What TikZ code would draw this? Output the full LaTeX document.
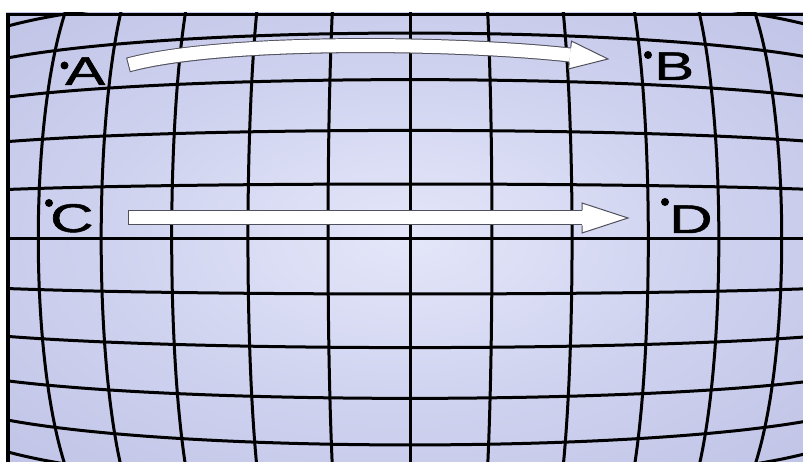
\documentclass[tikz,border=0pt]{standalone}
\usepackage{fontspec}
\usepackage{graphicx}
\usetikzlibrary{calc}
\newfontfamily\lblfont[FakeBold=1.2]{Liberation Sans}
\definecolor{bgin}{RGB}{228,231,249}
\definecolor{bgmid}{RGB}{206,209,238}
\definecolor{bgout}{RGB}{180,184,223}
\definecolor{bgcorner}{RGB}{166,170,214}
\definecolor{arrowedge}{RGB}{80,80,92}
\pgfdeclareradialshading{lens}{\pgfpoint{0bp}{0bp}}{color(0bp)=(bgin); color(20bp)=(bgmid); color(50bp)=(bgout); color(72bp)=(bgcorner)}
\newcommand{\wide}[1]{\scalebox{1.5}[1]{#1}}

\begin{document}
\begin{tikzpicture}[
    x=1pt, y=-1pt,
    gridline/.style={line width=3pt, black},
    letter/.style={font=\lblfont\fontsize{40}{48}\selectfont, inner sep=0pt, anchor=base west},
    dotpt/.style={circle, fill=black, inner sep=0pt, minimum size=8pt},
    arrowhead/.style={fill=white, draw=arrowedge, line width=1pt, line join=miter},
    declare function={
        gx(\u,\v)=410+100*\u*(1-0.0057*\u*\u-0.0084*\v*\v);
        gy(\u,\v)=239-100*\v*(1-0.0047*\u*\u-0.0139*\v*\v);
    }
]
    \useasboundingbox (0,0) rectangle (803,462);
    % Background
    \fill[white] (0,0) rectangle (803,462);
    \shade[shading=lens] (6,13) rectangle (803,462);

    % Distorted grid
    \begin{scope}
        \clip (6,13) rectangle (803,462);
        \foreach \n in {-5,...,5} {
            \draw[gridline] plot[smooth, variable=\t, domain=-3.6:3.6, samples=25] ({gx(\n*0.823,\t)}, {gy(\n*0.823,\t)});
        }
        \foreach \m in {-6,...,6} {
            \draw[gridline] plot[smooth, variable=\t, domain=-6.2:6.2, samples=31] ({gx(\t,\m*0.5523)}, {gy(\t,\m*0.5523)});
        }
    \end{scope}

    % Frame
    \fill[black] (6,13) rectangle (10,462);
    \fill[black] (6,13) rectangle (803,16.3);

    % Arrow A to B
    \coordinate (abtail) at (128,65);
    \coordinate (abbase) at (570,55);
    \coordinate (abtip) at (608,59);
    \draw[line width=15pt, arrowedge] (abtail) .. controls (220,40) and (450,42) .. (abbase);
    \draw[line width=13pt, white, shorten <=1pt] (abtail) .. controls (220,40) and (450,42) .. (abbase);
    \filldraw[arrowhead] ($(abbase)!7.5pt!90:(abtip)$) -- ($(abbase)!14pt!90:(abtip)$) -- (abtip) -- ($(abbase)!14pt!-90:(abtip)$) -- ($(abbase)!7.5pt!-90:(abtip)$);

    % Arrow C to D
    \coordinate (cdtail) at (128,218);
    \coordinate (cdbase) at (582,218);
    \coordinate (cdtip) at (628,218);
    \draw[line width=15pt, arrowedge] (cdtail) -- (cdbase);
    \draw[line width=13pt, white, shorten <=1pt] (cdtail) -- (cdbase);
    \filldraw[arrowhead] ($(cdbase)!7.5pt!90:(cdtip)$) -- ($(cdbase)!15pt!90:(cdtip)$) -- (cdtip) -- ($(cdbase)!15pt!-90:(cdtip)$) -- ($(cdbase)!7.5pt!-90:(cdtip)$);

    % Points
    \node[dotpt] (dA) at (64.5,65.5) {};
    \node[letter] (A) at (65,85) {\wide{A}};
    \node[dotpt] (dB) at (648,55) {};
    \node[letter] (B) at (654,80) {\wide{B}};
    \node[dotpt] (dC) at (49,203) {};
    \node[letter] (C) at (50,232) {\wide{C}};
    \node[dotpt] (dD) at (665,202) {};
    \node[letter] (D) at (669,233) {\wide{D}};
\end{tikzpicture}
\end{document}
